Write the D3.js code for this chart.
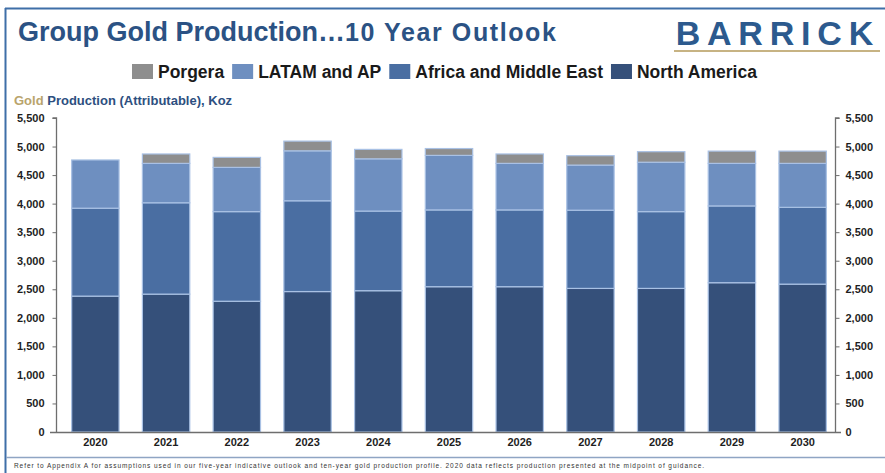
<!DOCTYPE html>
<html>
<head>
<meta charset="utf-8">
<title>Group Gold Production 10 Year Outlook</title>
<script src="https://d3js.org/d3.v7.min.js"></script>
<style>
  body { margin: 0; background: #fff; }
  svg text { font-family: "Liberation Sans", Arial, sans-serif; }
</style>
</head>
<body>
<div id="chart"></div>
<script>
// data (Koz, attributable)
const years = ["2020","2021","2022","2023","2024","2025","2026","2027","2028","2029","2030"];
const northAmerica = [2380, 2415, 2290, 2460, 2475, 2545, 2545, 2515, 2515, 2615, 2590];
const africaMiddleEast = [1540, 1600, 1570, 1590, 1395, 1345, 1345, 1370, 1345, 1345, 1345];
const latamAP = [845, 690, 775, 875, 915, 955, 815, 790, 865, 745, 770];
const porgera = [0, 165, 175, 170, 165, 120, 165, 165, 185, 215, 215];
const yTicks = [0, 500, 1000, 1500, 2000, 2500, 3000, 3500, 4000, 4500, 5000, 5500];

const seriesNames = ["North America", "Africa and Middle East", "LATAM and AP", "Porgera"];
const seriesColors = ["#35507a", "#4a6ea2", "#6e8fc0", "#8e8e8e"];
const legendOrder = [3, 2, 1, 0];

const rows = years.map((y, i) => ({
  year: y,
  "North America": northAmerica[i],
  "Africa and Middle East": africaMiddleEast[i],
  "LATAM and AP": latamAP[i],
  "Porgera": porgera[i]
}));

const W = 885, H = 473;
const svg = d3.select("#chart").append("svg")
  .attr("width", W).attr("height", H);

// slide frame
svg.append("line").attr("x1", 5).attr("x2", W).attr("y1", 8.5).attr("y2", 8.5)
  .attr("stroke", "#3f6fa8").attr("stroke-width", 2);
svg.append("line").attr("x1", 5.5).attr("x2", 5.5).attr("y1", 8).attr("y2", H)
  .attr("stroke", "#3f6fa8").attr("stroke-width", 2);
svg.append("line").attr("x1", 6).attr("x2", W).attr("y1", 457.5).attr("y2", 457.5)
  .attr("stroke", "#8fa5c4").attr("stroke-width", 1.5);

// title
const title = svg.append("text").attr("x", 18).attr("y", 41)
  .attr("fill", "#2b5284").attr("font-weight", "bold").attr("font-size", 27);
title.append("tspan").text("Group Gold Production…");
title.append("tspan").attr("font-size", 25).attr("letter-spacing", 1.6).text("10 Year Outlook");

// logo
svg.append("text").attr("x", 880).attr("y", 45).attr("text-anchor", "end")
  .attr("fill", "#2c5a8e").attr("font-weight", "bold").attr("font-size", 34)
  .attr("letter-spacing", 6.8)
  .text("BARRICK");
svg.append("line").attr("x1", 674).attr("x2", 880).attr("y1", 51).attr("y2", 51)
  .attr("stroke", "#b49a5a").attr("stroke-width", 1.5);

// legend, laid out left to right from measured text widths
const leg = svg.append("g").selectAll("g").data(legendOrder).join("g");
leg.append("rect").attr("width", 21).attr("height", 15)
  .attr("fill", d => seriesColors[d]);
leg.append("text").attr("x", 26).attr("y", 13.5)
  .attr("font-size", 17.5).attr("font-weight", "bold").attr("fill", "#1a1a1a")
  .text(d => seriesNames[d]);
let lx = 132;
leg.each(function() {
  d3.select(this).attr("transform", `translate(${lx},64)`);
  lx += 26 + d3.select(this).select("text").node().getComputedTextLength() + 8;
});

// axis title
const at = svg.append("text").attr("x", 14).attr("y", 105)
  .attr("font-size", 13).attr("font-weight", "bold");
at.append("tspan").attr("fill", "#b9a46c").text("Gold ");
at.append("tspan").attr("fill", "#2d4f80").text("Production (Attributable), Koz");

// scales
const x = d3.scaleBand().domain(years).range([60, 838])
  .paddingInner(0.33).paddingOuter(0.165);
const y = d3.scaleLinear().domain([0, 5500]).range([432, 118]);

const stack = d3.stack().keys(seriesNames)(rows);

svg.append("g").selectAll("g").data(stack).join("g")
  .attr("fill", (d, i) => seriesColors[i])
  .selectAll("rect").data(d => d).join("rect")
  .attr("x", d => x(d.data.year))
  .attr("width", x.bandwidth())
  .attr("y", d => y(d[1]))
  .attr("height", d => Math.max(0, y(d[0]) - y(d[1])))
  .attr("stroke", "#a9c1e4").attr("stroke-width", d => d[1] > d[0] ? 1.2 : 0);

// axes
const fmt = d3.format(",");
const yl = svg.append("g").attr("transform", "translate(56.5,0)")
  .call(d3.axisLeft(y).tickValues(yTicks).tickFormat(fmt).tickSize(4).tickPadding(8));
const yr = svg.append("g").attr("transform", "translate(835.5,0)")
  .call(d3.axisRight(y).tickValues(yTicks).tickFormat(fmt).tickSize(4).tickPadding(6));
const xb = svg.append("g").attr("transform", "translate(0,432.5)")
  .call(d3.axisBottom(x).tickSize(0).tickPadding(6));

[yl, yr, xb].forEach(g => {
  g.selectAll(".domain").attr("stroke", "#6e6e6e").attr("stroke-width", 1.3);
  g.selectAll(".tick line").attr("stroke", "#6e6e6e");
  g.selectAll("text").attr("font-size", 11).attr("font-weight", "bold")
    .attr("fill", "#1e1e1e");
});
xb.select(".domain").attr("d", "M50,0H841");
yl.select(".domain").attr("d", "M-4,118H0V432");
yr.select(".domain").attr("d", "M4,118H0V432");

// footnote
svg.append("text").attr("x", 14).attr("y", 468)
  .attr("font-size", 6.5).attr("fill", "#333")
  .attr("textLength", 690).attr("lengthAdjust", "spacing")
  .text("Refer to Appendix A for assumptions used in our five-year indicative outlook and ten-year gold production profile. 2020 data reflects production presented at the midpoint of guidance.");
</script>
</body>
</html>
